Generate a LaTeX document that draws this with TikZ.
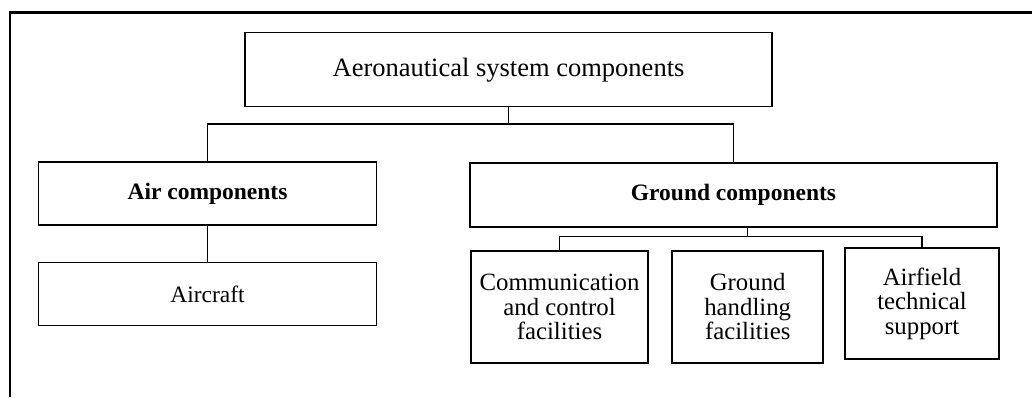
\documentclass[tikz,border=0pt]{standalone}
\usepackage{fontspec}
\setmainfont{Liberation Serif}
\begin{document}
\begin{tikzpicture}[x=1pt,y=1pt,
  box/.style={draw=black, line width=1.2pt, inner sep=0pt, align=center,
    font=\fontsize{23.5}{24}\selectfont},
  thickbox/.style={box, line width=2pt},
  multi/.style={font=\fontsize{24.8}{24.5}\selectfont},
  link/.style={draw=black, line width=1.2pt},
  frame/.style={draw=black, line width=2.6pt}]
\useasboundingbox (0,0) rectangle (1032,-397);
\draw[frame] (10,-397) -- (10,-12.5) -- (1032,-12.5);

\node[box, minimum width=527pt, minimum height=74pt, font=\fontsize{26.5}{28}\selectfont] (top) at (508.5,-69.7) {Aeronautical system components};
\node[box, minimum width=338.5pt, minimum height=63pt] (air) at (207.5,-193.5) {\textbf{Air components}};
\node[box, minimum width=338.5pt, minimum height=63pt] (aircraft) at (207.5,-294.2) {Aircraft};
\node[thickbox, minimum width=527pt, minimum height=63.7pt] (ground) at (733.5,-195.2) {\textbf{Ground components}};
\node[box, multi, line width=1.6pt, minimum width=177pt, minimum height=112pt] (comm) at (559.5,-307) {Communication\\and control\\facilities};
\node[thickbox, multi, minimum width=151pt, minimum height=112pt] (hand) at (747.7,-307) {Ground\\handling\\facilities};
\node[thickbox, multi, minimum width=154pt, minimum height=111pt] (airf) at (922,-303.5) {Airfield\\technical\\support};

\coordinate (j1) at (508.5,-124);
\coordinate (j2) at (747.7,-236.7);

\draw[link] (top.south) -- (j1);
\draw[link] (air.north) |- (j1) -| (ground.north);
\draw[link] (air.south) -- (aircraft.north);
\draw[link] (ground.south -| j2) -- (j2);
\draw[link] (comm.north) |- (j2) -| (airf.north);
\end{tikzpicture}
\end{document}
